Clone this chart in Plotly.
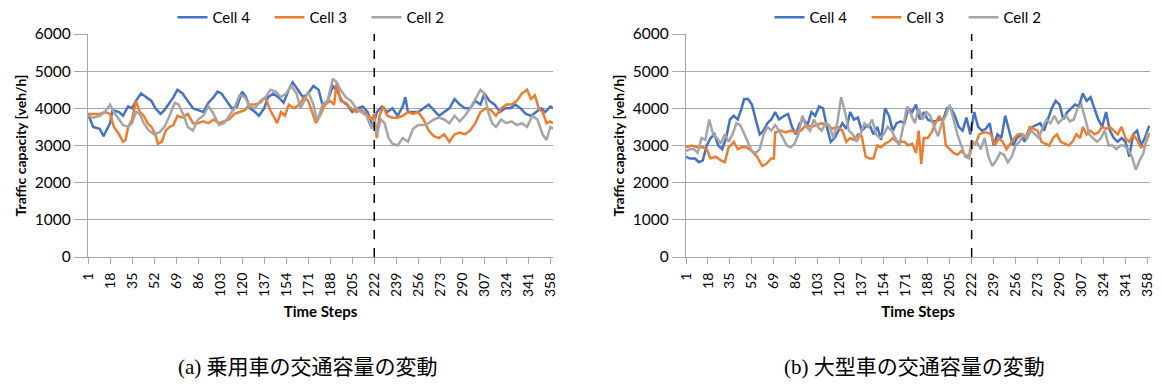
import plotly.graph_objects as go

# ---------------- data ----------------
tick_steps = list(range(1, 359, 17))
series_names = ["Cell 4", "Cell 3", "Cell 2"]
series_colors = ["#4472C4", "#ED7D31", "#A5A5A5"]
split_step = 222

# (a) passenger cars
a_cell4_t = [1,5,10,13,18,20,25,28,32,35,38,42,46,50,53,57,60,64,67,70,74,78,82,86,90,94,98,101,104,108,112,116,120,123,126,130,133,137,140,144,148,152,156,159,163,167,171,175,179,182,186,190,193,197,201,205,209,213,217,221,224,228,232,236,240,244,246,248,252,256,260,264,268,272,276,280,284,288,292,296,300,304,307,311,315,319,323,327,331,335,339,343,347,351,354,358,360]
a_cell4_v = [3850,3500,3450,3250,3600,3950,3900,3800,4050,4000,4200,4400,4300,4200,4000,3850,3950,4150,4300,4500,4400,4200,4000,3950,3900,4150,4300,4450,4400,4200,4000,4050,4450,4300,4000,3900,3800,4000,4300,4400,4300,4150,4500,4700,4500,4300,4400,4600,4500,4100,4200,4600,4500,4200,4100,3900,4000,4050,3900,3500,3900,4050,3900,4000,3800,4050,4300,3900,3900,3900,4000,4100,3950,3800,3900,4000,4250,4100,4000,4000,4200,4100,4400,4200,4100,3900,4000,4000,4100,4000,3850,3800,3900,4000,3900,4050,4000]

a_cell3_t = [1,5,10,14,18,21,25,28,30,32,35,38,41,44,47,50,53,55,58,61,64,67,70,74,78,82,86,90,94,98,102,106,110,114,118,122,126,130,134,138,141,144,147,150,153,156,160,164,168,171,174,177,180,184,188,191,193,196,200,204,208,212,216,220,222,224,226,229,232,236,240,244,248,252,256,260,264,268,272,276,280,284,288,292,296,300,304,308,312,316,320,324,328,332,336,340,343,346,349,352,355,358,360]
a_cell3_v = [3850,3850,3850,3900,3850,3500,3300,3100,3150,3500,3700,4200,3900,3800,3600,3500,3300,3050,3100,3400,3500,3550,3800,3750,3850,3600,3600,3650,3600,3700,3600,3650,3700,3850,3900,3950,4100,4100,4150,4300,4000,3800,3600,3900,3800,4100,4000,4100,4300,4200,3900,3600,3800,4100,4200,4100,4700,4200,4150,4000,3900,3950,3850,3700,3850,3200,3800,4050,3800,3750,3750,3800,3900,3850,3900,3700,3400,3250,3200,3300,3100,3300,3350,3300,3400,3600,3900,4000,3950,3800,4000,4100,4100,4200,4400,4500,4250,4350,4000,3900,3600,3650,3600]

a_cell2_t = [1,5,10,14,18,21,25,28,32,35,38,41,44,48,52,56,60,64,68,71,75,78,82,86,90,94,98,102,106,110,114,118,122,126,130,134,138,142,146,150,154,158,162,165,168,171,175,178,182,186,190,193,196,200,204,208,212,216,220,222,224,227,230,233,236,240,244,248,252,256,260,264,268,272,276,280,284,288,292,296,300,304,307,310,313,316,320,324,328,332,336,340,344,348,352,355,358,360]
a_cell2_v = [3800,3750,3800,3900,4100,3900,3700,3550,3500,3600,3900,3850,3600,3400,3300,3350,3500,3800,4150,4100,3800,3500,3400,3700,3800,4050,3850,3550,3600,3800,4000,4350,4300,4050,4000,4200,4300,4500,4450,4300,4400,4600,4400,4000,4200,4450,4100,3650,4100,4200,4800,4700,4500,4300,4200,4000,3900,3800,3450,3700,3300,3700,3600,3200,3050,3000,3200,3100,3450,3550,3550,3600,3700,3750,3700,3600,3800,3650,3800,4000,4250,4500,4400,3900,3600,3500,3700,3600,3650,3550,3600,3500,3800,3700,3300,3150,3500,3450]

# (b) large vehicles
b_cell4_t = [1,4,8,11,14,17,20,23,26,29,32,35,38,41,44,46,49,52,55,58,61,64,67,70,73,77,80,83,86,89,92,95,98,101,104,107,110,113,116,119,122,125,128,131,134,137,140,143,146,149,152,155,158,161,164,167,170,173,176,179,182,185,188,191,194,197,200,203,206,209,212,215,218,221,224,227,230,233,236,239,242,245,248,251,254,257,260,263,266,269,272,275,278,281,284,287,290,293,296,299,302,305,308,311,314,317,320,323,326,329,332,335,338,341,344,347,350,353,356,359,360]
b_cell4_v = [2700,2650,2650,2550,2600,3000,3200,3300,3000,2900,3200,3700,3800,3700,4000,4250,4250,4100,3700,3300,3400,3600,3700,3900,3700,3800,3850,3500,3300,3600,3700,3550,3900,3800,4050,4000,3500,3100,3200,3400,3600,3450,3900,3700,3750,3400,3500,3550,3300,3500,3150,4000,3800,3400,3600,3650,3600,4000,3900,4100,3700,3900,3700,3650,3650,3700,3700,4000,4000,3800,3500,3400,3750,3300,3900,3500,3400,3450,3600,3000,3300,3200,3800,3400,3000,3200,3300,3100,3400,3500,3550,3600,3400,3700,4000,4200,4100,3700,3900,4000,4100,4050,4400,4200,4300,4000,3700,3500,3900,3400,3200,3100,3200,3100,2700,3300,3400,3000,3200,3500,3500]

b_cell3_t = [1,5,10,14,17,20,24,28,31,34,38,41,44,48,52,56,60,63,67,69,70,74,78,82,86,90,94,98,102,106,110,114,118,122,125,128,131,134,137,140,143,146,149,152,155,158,161,164,167,170,173,176,179,181,183,185,188,191,194,197,200,202,205,208,211,214,217,220,222,225,228,231,234,237,240,243,246,249,252,255,258,261,264,267,270,273,276,279,282,285,288,291,294,297,300,303,306,308,311,314,317,320,323,326,329,332,335,338,341,344,347,350,353,356,359,360]
b_cell3_v = [2950,3000,2950,2950,2900,2650,2700,2600,2550,2950,3100,2900,2950,2950,2850,2700,2450,2500,2650,2650,3350,3400,3350,3400,3350,3400,3550,3500,3550,3600,3550,3450,3500,3400,3100,3200,3150,3300,3250,2700,2650,2650,3000,2950,3050,3100,3200,3100,3100,3100,3000,3050,2800,3400,2500,3200,3200,3350,3600,3800,3600,3000,2900,2800,2750,2850,2750,2700,3100,3050,3300,3350,3350,3300,3000,3200,3100,2900,3050,3200,3300,3300,3200,3500,3450,3400,3100,3050,3000,3200,3300,3100,3050,3000,3100,3300,3200,3500,3300,3400,3300,3350,3500,3450,3500,3400,3300,3500,3200,3100,3300,3150,2950,3000,3300,3300]

b_cell2_t = [1,4,7,10,13,16,19,22,25,28,31,34,37,40,43,46,49,52,55,58,61,64,67,70,73,76,79,82,85,88,91,94,97,100,103,106,109,112,115,118,121,124,127,130,133,136,139,142,145,148,151,154,157,160,163,166,169,172,175,178,181,184,187,190,193,196,199,202,205,208,211,214,217,220,223,226,229,232,235,238,241,244,247,250,253,256,259,262,265,268,271,274,277,280,283,286,289,292,295,298,301,304,307,310,313,316,319,322,325,328,331,334,337,340,343,346,349,352,355,358,360]
b_cell2_v = [2850,2900,2900,2800,3200,3150,3700,3300,3200,3050,3300,3100,3300,3600,3550,3300,3050,2850,2800,2900,3300,3500,3400,3550,3400,3200,3000,2950,3050,3300,3800,3500,3400,3700,3500,3400,3600,3550,3200,3600,4300,3900,3400,3300,3100,3300,3600,3500,3700,3300,3200,3300,3500,3400,3200,3000,3500,4050,3850,3600,4000,3700,3900,3800,3500,3250,3600,3800,4100,3700,3300,3000,2700,2650,3050,3100,2900,3200,2700,2450,2600,2800,2750,2550,2700,3000,3100,3300,3200,3400,3300,3200,3500,3700,3600,3800,3600,3700,3800,3650,3700,4000,4100,3700,3300,3200,3100,3200,3400,3000,3000,2900,3000,3000,2900,2700,2350,2600,2800,3300,3250]

captions = ["(a) 乗用車の交通容量の変動", "(b) 大型車の交通容量の変動"]
y_title = "Traffic capacity [veh/h]"
x_title = "Time Steps"

# ---------------- figure ----------------
FONT = "Lato, Carlito, Calibri, 'Open Sans', sans-serif"
GRID = "#a6a6a6"

panels = [
    [(a_cell4_t, a_cell4_v), (a_cell3_t, a_cell3_v), (a_cell2_t, a_cell2_v)],
    [(b_cell4_t, b_cell4_v), (b_cell3_t, b_cell3_v), (b_cell2_t, b_cell2_v)],
]

fig = go.Figure()
for p, series in enumerate(panels):
    for (t, v), name, col in zip(series, series_names, series_colors):
        n = min(len(t), len(v))
        fig.add_trace(go.Scatter(
            x=t[:n], y=v[:n], mode="lines", name=name,
            line=dict(color=col, width=2.5),
            xaxis="x" if p == 0 else "x2",
            yaxis="y" if p == 0 else "y2",
            legend="legend" if p == 0 else "legend2",
        ))

# page body adds an 8px margin; size and place the figure in screen pixels minus 8
OFF = 8
W, H = 1162 - 2 * OFF, 389 - 2 * OFF

def px_x(sx):
    return (sx - OFF) / W

def px_y(sy):
    return 1 - (sy - OFF) / H

xdom = [[px_x(88), px_x(553)], [px_x(686), px_x(1150)]]
ydom = [px_y(257), px_y(34)]

def xaxis(dom, anchor):
    return dict(domain=dom, anchor=anchor, range=[1, 360], tickmode="array",
                tickvals=tick_steps, ticktext=[str(s) for s in tick_steps],
                tickangle=-90, tickfont=dict(size=14, color="#000", family=FONT),
                showgrid=False, zeroline=False, showline=True, linecolor=GRID,
                linewidth=1.3, ticks="outside", ticklen=6, tickcolor=GRID,
                ticklabelstandoff=3, ticklabeloverflow="allow", automargin=False,
                title=dict(text=f"<b>{x_title}</b>", font=dict(size=15, color="#000", family=FONT),
                           standoff=10))

def yaxis(anchor):
    return dict(domain=ydom, anchor=anchor, range=[0, 6000], dtick=1000,
                tickfont=dict(size=15.5, color="#000", family=FONT),
                showgrid=True, gridcolor=GRID, gridwidth=1.3, zeroline=False,
                showline=True, linecolor=GRID, linewidth=1.3, ticks="outside",
                ticklen=13, tickcolor=GRID, automargin=False,
                title=dict(text=f"<b>{y_title}</b>", font=dict(size=14, color="#000", family=FONT),
                           standoff=4))

legend_common = dict(orientation="h", yanchor="top", y=1 + 7 / H, xanchor="center",
                     font=dict(size=15, color="#000", family=FONT),
                     bgcolor="rgba(0,0,0,0)", entrywidth=52, entrywidthmode="pixels",
                     itemwidth=30, tracegroupgap=0)

fig.update_layout(
    width=W, height=H,
    margin=dict(l=0, r=0, t=0, b=0, autoexpand=False),
    paper_bgcolor="white", plot_bgcolor="white",
    font=dict(family=FONT, color="#000"),
    xaxis=xaxis(xdom[0], "y"), yaxis=yaxis("x"),
    xaxis2=xaxis(xdom[1], "y2"), yaxis2=yaxis("x2"),
    legend=dict(x=px_x(318), **legend_common),
    legend2=dict(x=px_x(915), **legend_common),
    showlegend=True,
)

for xr, yr in (("x", "y"), ("x2", "y2")):
    fig.add_shape(type="line", xref=xr, yref=yr, x0=split_step, x1=split_step,
                  y0=0, y1=6000, line=dict(color="#000", width=1.5, dash="dash"))

for cap, cx in zip(captions, (308, 914)):
    fig.add_annotation(text=cap, xref="paper", yref="paper", x=px_x(cx), y=px_y(367),
                       xanchor="center", yanchor="middle", showarrow=False,
                       font=dict(size=21, color="#000",
                                 family="'Liberation Serif', 'Noto Sans CJK JP', serif"))

fig.write_html("out.html")
